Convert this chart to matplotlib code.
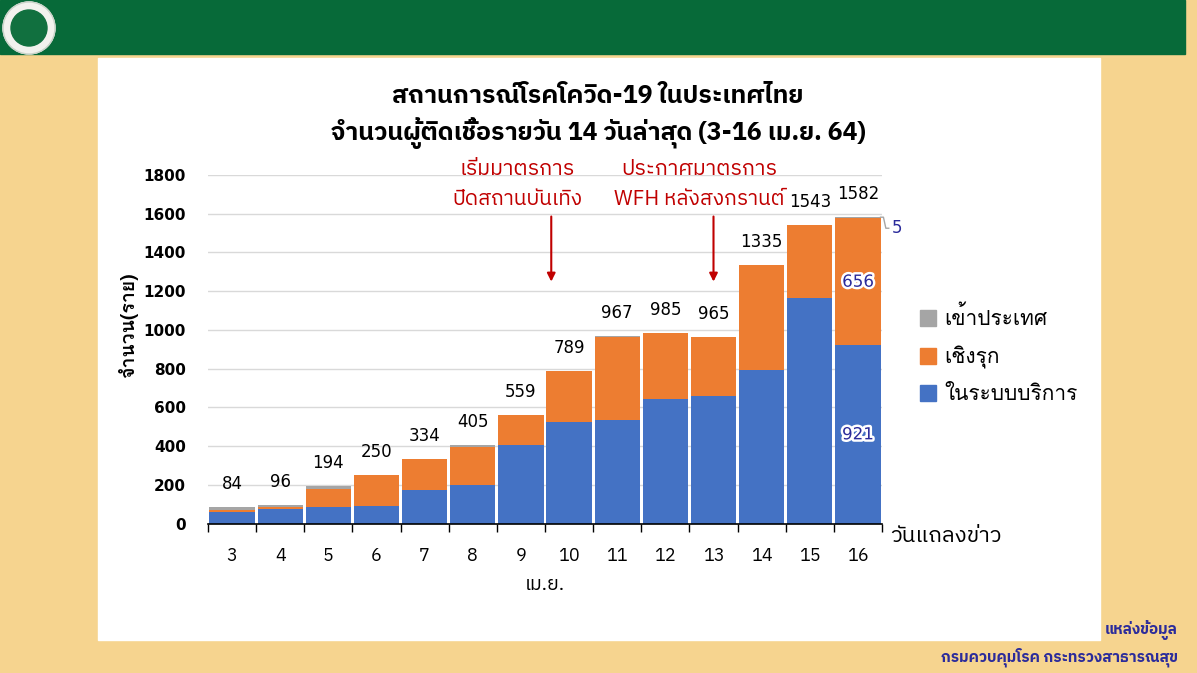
import matplotlib
matplotlib.use("Agg")
import matplotlib.pyplot as plt
import matplotlib.patheffects as pe
from matplotlib.patches import Rectangle, Circle, Patch

THAI_UI = ["IBM Plex Sans Thai", "DejaVu Sans"]
THAI_LOOP = ["Loma", "DejaVu Sans"]
plt.rcParams["font.family"] = THAI_UI
plt.rcParams["axes.unicode_minus"] = False

days = ["3", "4", "5", "6", "7", "8", "9", "10", "11", "12", "13", "14", "15", "16"]
in_system = [57, 74, 84, 91, 172, 197, 404, 526, 535, 641, 659, 793, 1166, 921]
active = [14, 12, 94, 157, 162, 198, 155, 261, 430, 342, 302, 540, 374, 656]
imported = [13, 10, 16, 2, 0, 10, 0, 2, 2, 2, 4, 2, 3, 5]
totals = [84, 96, 194, 250, 334, 405, 559, 789, 967, 985, 965, 1335, 1543, 1582]
series_names = ["ในระบบบริการ", "เชิงรุก", "เข้าประเทศ"]

BLUE = "#4472C4"
ORANGE = "#ED7D31"
GRAY = "#A5A5A5"
RED = "#C00000"
NAVY = "#2B2B9B"

W, H = 1197, 673
fig = plt.figure(figsize=(W / 100, H / 100), dpi=100, facecolor="#F6D48F")

# background: green header and white panel
fig.patches.append(Rectangle((0, 1 - 54 / H), 1 - 12 / W, 54 / H, transform=fig.transFigure,
                             color="#076A39", zorder=-2))
fig.patches.append(Rectangle((98 / W, 1 - 640 / H), (1100 - 98) / W, (640 - 58) / H,
                             transform=fig.transFigure, color="white", zorder=-2))

# logo
lax = fig.add_axes([0, 1 - 56 / H, 58 / W, 56 / H])
lax.set_xlim(0, 58)
lax.set_ylim(0, 56)
lax.set_aspect("equal")
lax.axis("off")
lax.add_patch(Circle((29, 28), 26, color="#F2F2EE"))
lax.add_patch(Circle((29, 28), 18, color="#11703F"))
lax.add_patch(Circle((29, 28), 26, fill=False, ec="#C9D3C9", lw=1))

ax = fig.add_axes([208 / W, 1 - 523.5 / H, (882 - 208) / W, (523.5 - 175) / H])
ax.patch.set_alpha(0)
x = list(range(len(days)))
bottom2 = [a + b for a, b in zip(in_system, active)]
ax.bar(x, in_system, width=0.94, color=BLUE, zorder=2)
ax.bar(x, active, width=0.94, bottom=in_system, color=ORANGE, zorder=2)
ax.bar(x, imported, width=0.94, bottom=bottom2, color=GRAY, zorder=2)

ax.set_xlim(-0.5, len(days) - 0.5)
ax.set_ylim(0, 1800)
ax.set_yticks(range(0, 1801, 200))
ax.set_yticklabels([str(v) for v in range(0, 1801, 200)], fontfamily="DejaVu Sans",
                   fontweight="bold", fontsize=11)
ax.set_xticks(x)
ax.set_xticklabels(days, fontsize=13)
ax.set_xticks([i - 0.5 for i in range(len(days) + 1)], minor=True)
ax.tick_params(axis="x", which="major", length=0, pad=17)
ax.tick_params(axis="x", which="minor", length=6, width=1, color="black")
ax.tick_params(axis="y", length=0, pad=16)
ax.grid(axis="y", color="#D9D9D9", lw=1, zorder=0)
for s in ["left", "right", "top"]:
    ax.spines[s].set_visible(False)
ax.spines["bottom"].set_color("black")
ax.spines["bottom"].set_linewidth(1.2)
ax.spines["bottom"].set_zorder(3)

ax.set_xlabel("เม.ย.", fontsize=14, labelpad=8)
ax.set_ylabel("จำนวน(ราย)", fontsize=14, fontweight="bold", family=THAI_LOOP)
ax.yaxis.set_label_coords(-0.104, 0.572)

for i, t in enumerate(totals):
    ax.annotate(str(t), (i, t), xytext=(0, 16.5), textcoords="offset points",
                ha="center", va="center", fontsize=12, fontfamily="DejaVu Sans")

glow = [pe.withStroke(linewidth=3.5, foreground="white")]
last = len(days) - 1
ax.text(last, in_system[last] / 2, str(in_system[last]), ha="center", va="center",
        fontsize=12, color=NAVY, fontfamily="DejaVu Sans", path_effects=glow, zorder=4)
ax.text(last, in_system[last] + active[last] / 2, str(active[last]), ha="center", va="center",
        fontsize=12, color=NAVY, fontfamily="DejaVu Sans", path_effects=glow, zorder=4)
ax.plot([last + 0.47, last + 0.53, last + 0.58, last + 0.64],
        [totals[last], totals[last], 1525, 1525], color="#A6A6A6", lw=1, clip_on=False)
ax.text(last + 0.82, 1525, str(imported[last]), ha="center", va="center", fontsize=12,
        color=NAVY, fontfamily="DejaVu Sans", clip_on=False)

# event annotations
notes = [(6.63, 5.92, "เริ่มมาตรการ", "ปิดสถานบันเทิง"),
         (10.0, 9.7, "ประกาศมาตรการ", "WFH หลังสงกรานต์")]
for ax_x, tx, l1, l2 in notes:
    ax.text(tx, 1830, l1, ha="center", va="center", fontsize=15.5, color=RED, clip_on=False)
    ax.text(tx, 1672, l2, ha="center", va="center", fontsize=15, color=RED, clip_on=False)
    ax.annotate("", xy=(ax_x, 1235), xytext=(ax_x, 1600),
                arrowprops=dict(arrowstyle="-|>", color=RED, lw=1.5, mutation_scale=12))

ax.text(1.012, -0.036, "วันแถลงข่าว", transform=ax.transAxes, ha="left", va="center",
        fontsize=16)

handles = [Patch(color=GRAY), Patch(color=ORANGE), Patch(color=BLUE)]
fig.legend(handles, series_names[::-1], loc="center left", bbox_to_anchor=(901 / W, 1 - 355 / H),
           frameon=False, prop={"family": THAI_LOOP, "size": 15}, handlelength=0.8,
           handleheight=0.8, handletextpad=0.4, labelspacing=0.78)

fig.text(0.4996, 1 - 96 / H, "สถานการณ์โรคโควิด-19 ในประเทศไทย", ha="center", va="center",
         fontsize=18, fontweight="bold")
fig.text(0.4996, 1 - 133 / H, "จำนวนผู้ติดเชื้อรายวัน 14 วันล่าสุด (3-16 เม.ย. 64)", ha="center",
         va="center", fontsize=18, fontweight="bold")

fig.text(1178 / W, 1 - 630 / H, "แหล่งข้อมูล", ha="right", va="center", fontsize=11,
         fontweight="bold", color=NAVY)
fig.text(1178 / W, 1 - 657 / H, "กรมควบคุมโรค กระทรวงสาธารณสุข", ha="right", va="center",
         fontsize=11, fontweight="bold", color=NAVY)

fig.savefig("out.png", dpi=100, facecolor=fig.get_facecolor())
